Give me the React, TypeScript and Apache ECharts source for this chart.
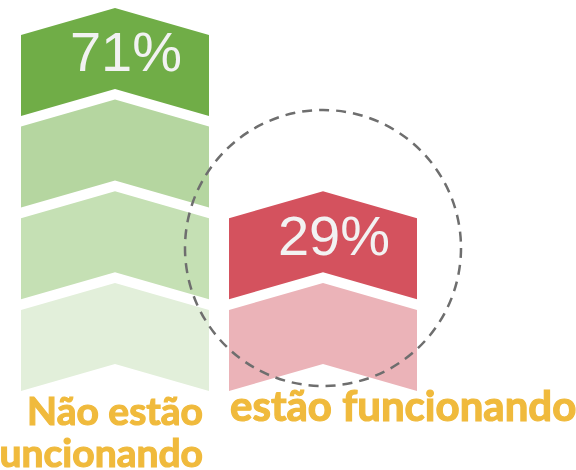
import React, { useEffect, useRef } from "react";
import * as echarts from "echarts";

const categories = ["Não estão\nfuncionando", "estão funcionando"];
const percentages = [71, 29];
const chevronCounts = [4, 2];
const greenShades = ["#e2efda", "#c5e0b4", "#b5d6a0", "#70ad47"];
const redShades = ["#ebb3b8", "#d4525e"];

const palettes = [greenShades, redShades];

export default function App() {
  const ref = useRef<HTMLDivElement>(null);
  useEffect(() => {
    document.body.style.margin = "0";
    const chart = echarts.init(ref.current!, null, { renderer: "svg" });
    const data: number[][] = [];
    categories.forEach((_, ci) => {
      for (let lvl = 0; lvl < chevronCounts[ci]; lvl++) data.push([ci, lvl]);
    });
    const halfW = 94;
    const gap = 10.7;
    const apex = 27;
    const renderItem = (params: any, api: any) => {
      const ci = api.value(0);
      const lvl = api.value(1);
      const pb = api.coord([ci, lvl]);
      const pt = api.coord([ci, lvl + 1]);
      const cx = pb[0];
      const sb = pb[1];
      const st = pt[1] + gap;
      const count = chevronCounts[ci];
      const children: any[] = [
        {
          type: "polygon",
          shape: {
            points: [
              [cx - halfW, st],
              [cx, st - apex],
              [cx + halfW, st],
              [cx + halfW, sb],
              [cx, sb - apex],
              [cx - halfW, sb],
            ],
          },
          style: { fill: palettes[ci][lvl] },
        },
      ];
      if (lvl === count - 1) {
        children.push({
          type: "text",
          x: cx + 11,
          y: st + 17,
          style: {
            text: percentages[ci] + "%",
            fill: "#f2f2f2",
            fontSize: 56,
            fontFamily: "Liberation Sans, Arial, sans-serif",
            align: "center",
            verticalAlign: "middle",
          },
        });
      }
      if (lvl === 0) {
        const left = ci === 0;
        const fs = left ? 39 : 42;
        const lines = categories[ci].split("\n");
        lines.forEach((line, li) => {
          children.push({
            type: "text",
            x: left ? cx + halfW - 6 : cx - halfW + 1,
            y: sb + (left ? 19 : 14) + li * 42,
            style: {
              text: line,
              fill: "#f0ba3c",
              fontSize: fs,
              fontWeight: "bold",
              fontFamily: "Lato, sans-serif",
              stroke: "#f0ba3c",
              lineWidth: 1.2,
              align: left ? "right" : "left",
              verticalAlign: "middle",
            },
          });
        });
      }
      return { type: "group", children };
    };
    chart.setOption({
      animation: false,
      grid: { left: 11, width: 416, top: 24.2, bottom: 79 },
      xAxis: {
        type: "category",
        data: categories,
        show: false,
      },
      yAxis: { type: "value", min: 0, max: 4, show: false },
      series: [
        {
          type: "custom",
          renderItem,
          data,
          encode: { x: 0, y: 1 },
          clip: false,
        },
      ],
      graphic: [
        {
          type: "circle",
          shape: { cx: 323, cy: 248, r: 138 },
          style: {
            fill: "none",
            stroke: "#6e6e6e",
            lineWidth: 2.5,
            lineDash: [10, 7],
          },
          z: 100,
        },
      ],
    });
    return () => chart.dispose();
  }, []);
  return <div ref={ref} style={{ width: 576, height: 470, position: "fixed", left: 0, top: 0 }} />;
}
